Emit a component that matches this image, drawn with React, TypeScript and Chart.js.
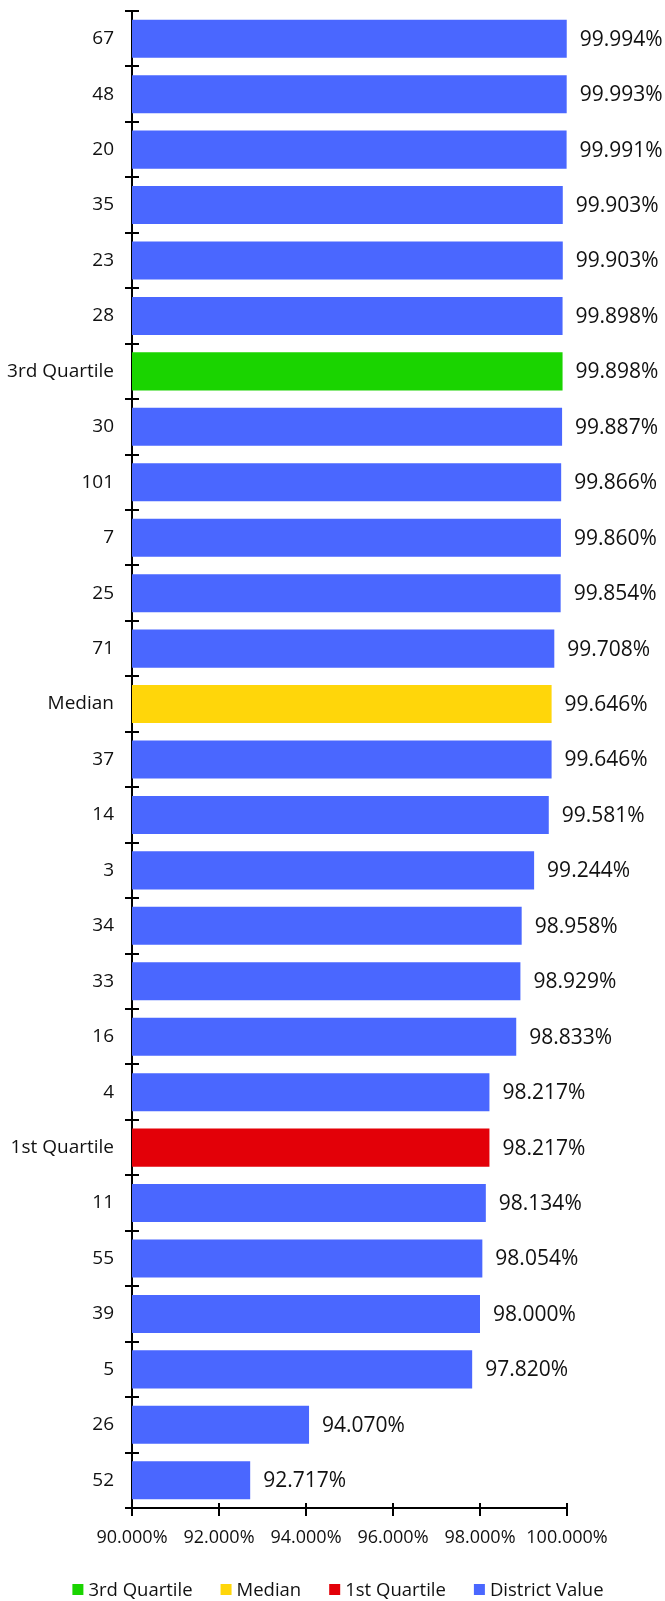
import React, { useEffect, useRef } from 'react';
import { Chart, registerables } from 'chart.js';

Chart.register(...registerables);

const categories = [
  '67', '48', '20', '35', '23', '28', '3rd Quartile', '30', '101', '7', '25', '71', 'Median',
  '37', '14', '3', '34', '33', '16', '4', '1st Quartile', '11', '55', '39', '5', '26', '52',
];

const values = [
  99.994, 99.993, 99.991, 99.903, 99.903, 99.898, 99.898, 99.887, 99.866, 99.86, 99.854, 99.708, 99.646,
  99.646, 99.581, 99.244, 98.958, 98.929, 98.833, 98.217, 98.217, 98.134, 98.054, 98.0, 97.82, 94.07, 92.717,
];

const xTickValues = [90, 92, 94, 96, 98, 100];

const legendLabels = ['3rd Quartile', 'Median', '1st Quartile', 'District Value'];

const GREEN = '#1AD400';
const YELLOW = '#FFD60A';
const RED = '#E30008';
const BLUE = '#4A67FF';
const legendColors = [GREEN, YELLOW, RED, BLUE];

const colorFor = (cat: string) =>
  cat === '3rd Quartile' ? GREEN : cat === 'Median' ? YELLOW : cat === '1st Quartile' ? RED : BLUE;

const FONT = "'Open Sans', sans-serif";
const TEXT = '#111111';

const fmt = (v: number) => v.toFixed(3) + '%';

const extrasPlugin = {
  id: 'extras',
  afterDatasetsDraw(chart: any) {
    const ctx = chart.ctx;
    const xs = chart.scales.x;
    const ys = chart.scales.y;
    ctx.save();
    ctx.strokeStyle = '#000';
    ctx.lineWidth = 2;
    // inner tick stubs on y axis
    for (let i = 0; i <= categories.length; i++) {
      const y = Math.round(ys.getPixelForValue(i - 0.5));
      ctx.beginPath();
      ctx.moveTo(xs.left, y);
      ctx.lineTo(xs.left + 7, y);
      ctx.stroke();
    }
    // inner tick stubs on x axis
    xTickValues.forEach((v) => {
      const x = Math.round(xs.getPixelForValue(v));
      ctx.beginPath();
      ctx.moveTo(x, ys.bottom);
      ctx.lineTo(x, ys.bottom - 5);
      ctx.stroke();
    });
    // data labels
    ctx.fillStyle = TEXT;
    ctx.font = `21px ${FONT}`;
    ctx.textAlign = 'left';
    ctx.textBaseline = 'middle';
    const meta = chart.getDatasetMeta(0);
    meta.data.forEach((bar: any, i: number) => {
      ctx.fillText(fmt(values[i]), bar.x + 13, bar.y + 1);
    });
    // legend
    ctx.font = `18.5px ${FONT}`;
    const box = 11;
    const gap = 5;
    const spacing = 28;
    const widths = legendLabels.map((l) => box + gap + ctx.measureText(l).width);
    const total = widths.reduce((a, b) => a + b, 0) + spacing * (legendLabels.length - 1);
    let x = 338 - total / 2;
    const cy = 1590;
    legendLabels.forEach((l, i) => {
      ctx.fillStyle = legendColors[i];
      ctx.fillRect(x, cy - 6, box, box);
      ctx.fillStyle = TEXT;
      ctx.fillText(l, x + box + gap, cy + 1);
      x += widths[i] + spacing;
    });
    ctx.restore();
  },
};

export default function App() {
  const ref = useRef<HTMLCanvasElement | null>(null);
  useEffect(() => {
    if (!ref.current) return;
    const chart = new Chart(ref.current, {
      type: 'bar',
      data: {
        labels: categories,
        datasets: [
          {
            data: values,
            backgroundColor: categories.map(colorFor),
            borderWidth: 0,
            barPercentage: 0.686,
            categoryPercentage: 1,
          },
        ],
      },
      options: {
        indexAxis: 'y',
        responsive: false,
        animation: false,
        devicePixelRatio: 1,
        layout: { padding: { top: 11, right: 98, left: 0, bottom: 0 } },
        plugins: { legend: { display: false }, tooltip: { enabled: false } },
        scales: {
          x: {
            min: 90,
            max: 100,
            afterBuildTicks: (s: any) => {
              s.ticks = xTickValues.map((v) => ({ value: v }));
            },
            afterFit: (s: any) => {
              s.height = 93;
            },
            ticks: {
              callback: (v: any) => fmt(Number(v)),
              font: { family: FONT, size: 18 },
              color: TEXT,
              padding: 11,
              maxRotation: 0,
              autoSkip: false,
            },
            grid: { drawOnChartArea: false, drawTicks: true, tickLength: 8, color: '#000', lineWidth: 2 },
            border: { color: '#000', width: 2 },
          },
          y: {
            afterFit: (s: any) => {
              s.width = 132;
              s.paddingTop = 0;
              s.paddingBottom = 0;
            },
            ticks: {
              font: { family: FONT, size: 19 },
              color: TEXT,
              padding: 11,
              autoSkip: false,
            },
            grid: { offset: true, drawOnChartArea: false, drawTicks: true, tickLength: 7, color: '#000', lineWidth: 2 },
            border: { color: '#000', width: 2 },
          },
        },
      },
      plugins: [extrasPlugin],
    });
    return () => chart.destroy();
  }, []);
  return (
    <div style={{ position: 'absolute', left: 0, top: 0, width: 665, height: 1601, background: '#fff' }}>
      <canvas ref={ref} width={665} height={1601} />
    </div>
  );
}
